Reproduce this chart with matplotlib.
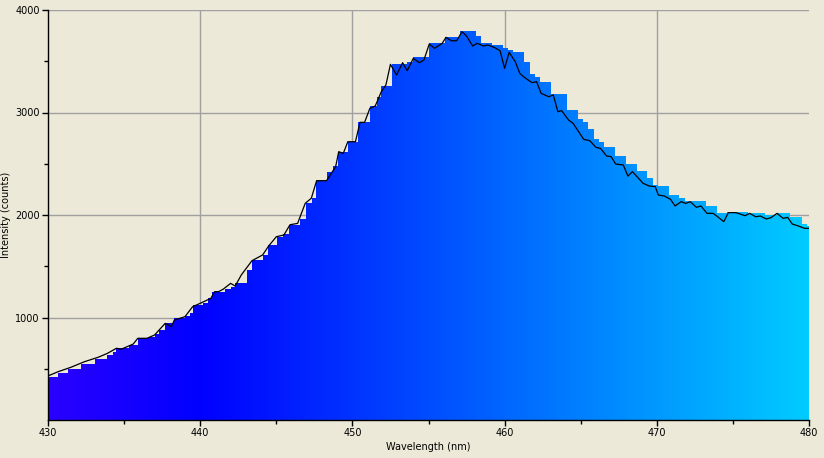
import numpy as np
import matplotlib.pyplot as plt
from matplotlib.ticker import MultipleLocator

# traced spectrum (black line)
line_wl = [430.0, 430.66, 431.5, 432.4, 433.3, 433.9, 434.5, 434.8, 435.3, 435.6,
           435.9, 436.5, 437.0, 437.7, 438.1, 438.3, 439.0, 439.5, 440.1, 440.7,
           440.95, 441.2, 441.5, 442.0, 442.3, 442.7, 443.4, 444.1, 444.5, 445.0,
           445.5, 445.9, 446.4, 446.9, 447.3, 447.65, 448.3, 448.9, 449.1, 449.4,
           449.7, 450.2, 450.5, 450.8, 451.15, 451.5, 451.9, 452.2, 452.5, 452.9,
           453.3, 453.6, 454.0, 454.4, 454.7, 455.05, 455.4, 455.9, 456.15, 456.5,
           456.85, 457.2, 457.5, 457.9, 458.2, 458.6, 458.9, 459.3, 459.7, 460.0,
           460.3, 460.7, 461.0, 461.3, 461.8, 462.1, 462.4, 462.9, 463.2, 463.5,
           463.75, 464.2, 464.5, 465.2, 465.6, 466.0, 466.3, 466.7, 467.0, 467.3,
           467.8, 468.1, 468.4, 469.1, 469.5, 469.9, 470.1, 470.5, 470.9, 471.2,
           471.6, 471.9, 472.2, 472.6, 472.9, 473.3, 473.7, 474.0, 474.4, 474.7,
           475.2, 475.8, 476.1, 476.5, 476.8, 477.2, 477.5, 477.9, 478.3, 478.6,
           478.9, 479.3, 479.7, 480.0]
line_counts = [430, 471, 514, 569, 612, 650, 700, 690, 722, 741,
               797, 797, 829, 943, 910, 975, 1008, 1105, 1145, 1187,
               1252, 1252, 1275, 1333, 1307, 1415, 1554, 1610, 1698, 1788,
               1805, 1905, 1918, 2114, 2163, 2335, 2335, 2472, 2618, 2601,
               2715, 2715, 2904, 2904, 3041, 3063, 3203, 3268, 3470, 3366,
               3486, 3408, 3528, 3486, 3512, 3668, 3626, 3675, 3733, 3700,
               3700, 3788, 3746, 3649, 3675, 3649, 3658, 3636, 3603, 3431,
               3587, 3496, 3382, 3343, 3291, 3301, 3187, 3154, 3171, 3008,
               3018, 2927, 2894, 2738, 2725, 2660, 2650, 2576, 2569, 2497,
               2488, 2380, 2423, 2309, 2283, 2276, 2195, 2185, 2153, 2088,
               2130, 2113, 2130, 2075, 2088, 2016, 2016, 1983, 1935, 2023,
               2023, 1993, 2016, 1983, 1990, 1961, 1974, 2016, 1967, 1977,
               1912, 1893, 1870, 1870]

# coloured stepped fill: bin edges and heights
fill_edges = [430.0, 430.66, 431.3, 432.2, 433.1, 433.9, 434.3, 434.5, 435.3, 435.9,
              436.6, 437.0, 437.3, 437.7, 438.3, 439.0, 439.3, 439.5, 440.2, 440.5,
              440.8, 441.6, 442.0, 442.3, 443.06, 443.38, 444.15, 444.47, 445.02, 445.46,
              445.83, 446.56, 446.95, 447.33, 447.61, 448.31, 448.71, 449.07, 449.73, 450.39,
              451.16, 451.6, 451.9, 452.58, 453.57, 454.0, 455.05, 456.08, 457.07, 458.12,
              458.43, 459.15, 459.92, 460.24, 460.57, 461.27, 461.67, 462.0, 462.33, 463.03,
              464.08, 464.8, 465.13, 465.5, 465.87, 466.18, 466.53, 467.25, 467.98, 468.68,
              469.34, 469.73, 470.1, 470.82, 471.48, 471.85, 473.23, 473.93, 474.59, 476.01,
              477.11, 477.88, 478.75, 479.52, 479.85, 480.0]
fill_counts = [423, 455, 494, 543, 592, 634, 667, 706, 732, 797,
               813, 839, 878, 943, 992, 1015, 1047, 1122, 1138, 1187,
               1252, 1275, 1301, 1333, 1463, 1561, 1610, 1707, 1789, 1815,
               1906, 1958, 2114, 2163, 2335, 2423, 2478, 2618, 2715, 2904,
               3063, 3154, 3258, 3473, 3490, 3538, 3675, 3733, 3795, 3746,
               3675, 3658, 3626, 3610, 3593, 3496, 3373, 3343, 3301, 3177,
               3024, 2937, 2910, 2836, 2738, 2715, 2660, 2576, 2498, 2432,
               2364, 2293, 2283, 2195, 2169, 2137, 2088, 2016, 2026, 2016,
               2000, 2016, 1977, 1912, 1893]

bg = "#ECE9D8"
grid_col = "#A0A0A0"


def wavelength_rgb(wl):
    # visible-spectrum colour approximation (380-490 nm part)
    wl = np.asarray(wl, dtype=float)
    r = np.where(wl < 440, (440 - wl) / 60.0, 0.0)
    g = np.where(wl < 440, 0.0, np.clip((wl - 440) / 50.0, 0, 1))
    b = np.ones_like(wl)
    return np.stack([r, g, b], axis=-1)


fig = plt.figure(figsize=(8.24, 4.58), dpi=100, facecolor=bg)
ax = fig.add_axes([48 / 824, 38 / 458, 761 / 824, 410 / 458])
ax.set_facecolor(bg)

for v in [440, 450, 460, 470]:
    ax.axvline(v, color=grid_col, lw=1, zorder=0)
for v in [1000, 2000, 3000, 4000]:
    ax.axhline(v, color=grid_col, lw=1, zorder=0)

patch = ax.stairs(fill_counts, fill_edges, fill=True, baseline=0,
                  facecolor="none", edgecolor="none", zorder=1)
cols = wavelength_rgb(np.linspace(430, 480, 800))[np.newaxis, :, :]
im = ax.imshow(cols, extent=[430, 480, 0, 4000], aspect="auto",
               origin="lower", interpolation="bilinear", zorder=1)
im.set_clip_path(patch)

ax.plot(line_wl, line_counts, color="black", lw=0.9, zorder=3)

ax.set_xlim(430, 480)
ax.set_ylim(0, 4000)
ax.set_xticks(range(430, 481, 10))
ax.xaxis.set_minor_locator(MultipleLocator(5))
ax.set_yticks([1000, 2000, 3000, 4000])
ax.set_yticks([500, 1500, 2500, 3500], minor=True)

for s in ["top", "right"]:
    ax.spines[s].set_visible(False)
for s in ["left", "bottom"]:
    ax.spines[s].set_linewidth(1)
    ax.spines[s].set_color("black")
    ax.spines[s].set_zorder(4)

ax.tick_params(which="major", direction="out", length=4, width=1,
               labelsize=7, pad=2, colors="black")
ax.tick_params(which="minor", direction="out", length=3, width=1)

ax.set_xlabel("Wavelength (nm)", fontsize=7, labelpad=3)
ax.set_ylabel("Intensity (counts)", fontsize=7, labelpad=3)

fig.savefig("out.png", dpi=100, facecolor=bg)
